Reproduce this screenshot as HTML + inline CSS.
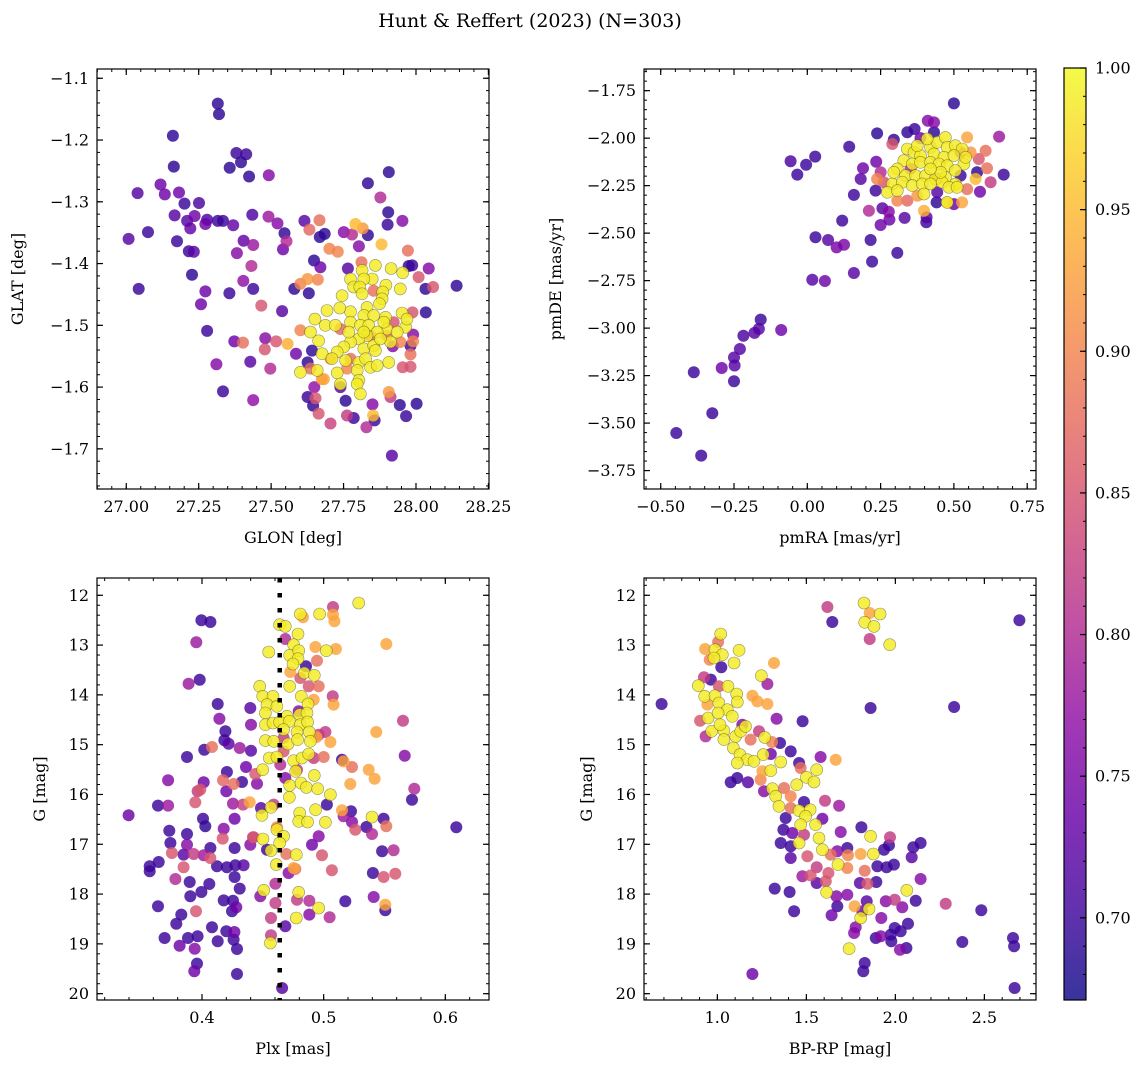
<!DOCTYPE html>
<html><head><meta charset="utf-8">
<style>
html,body{margin:0;padding:0;background:#fff;}
svg{display:block;font-family:"DejaVu Serif","Liberation Serif",serif;}
</style></head>
<body>
<svg id="fig" width="1148" height="1068" viewBox="0 0 1148 1068" xmlns="http://www.w3.org/2000/svg">
<defs><linearGradient id="cbgrad" x1="0" y1="1" x2="0" y2="0"></linearGradient></defs>
<text x="530" y="27" font-size="19" text-anchor="middle">Hunt &amp; Reffert (2023) (N=303)</text>
</svg>
<script>
// ---- Panel A: GLON / GLAT ----
const glon=[27.316,27.320,27.161,27.164,27.380,27.414,27.396,27.357,27.424,27.492,27.906,27.834,27.877,27.118,27.039,27.133,27.182,27.201,27.251,27.167,27.236,27.210,27.221,27.279,27.273,27.316,27.334,27.369,27.435,27.491,27.522,27.904,27.902,27.953,27.008,27.075,27.175,27.216,27.233,27.405,27.438,27.382,27.546,27.553,27.541,27.615,27.667,27.632,27.685,27.668,27.751,27.779,27.834,27.791,27.816,27.881,27.803,27.701,27.730,27.972,27.227,27.043,27.273,27.356,27.258,27.432,27.404,27.438,27.466,27.538,27.279,27.373,27.403,27.480,27.478,27.517,27.557,27.586,27.311,27.428,27.497,27.334,27.438,27.648,27.670,27.601,27.626,27.661,27.580,27.630,27.765,27.812,27.975,27.987,28.044,28.009,28.033,28.059,28.140,28.034,27.988,27.990,27.981,27.990,27.981,27.954,27.981,27.920,27.641,27.626,27.675,27.649,27.626,27.653,27.645,27.664,27.705,27.757,27.739,27.762,27.785,27.829,27.850,27.852,27.857,27.906,27.912,27.944,28.002,27.966,27.917,27.601,27.636,27.854,27.900,27.843,27.739,27.774,27.923,27.946,27.705,27.762,27.682,
27.860,27.914,27.954,27.814,27.774,27.785,27.849,27.820,27.806,27.814,27.896,27.885,27.946,27.745,27.883,27.874,27.774,27.737,27.693,27.651,27.831,27.820,27.854,27.895,27.952,27.900,27.964,27.935,27.774,27.808,27.837,27.866,27.687,27.636,27.664,27.831,27.803,27.774,27.751,27.820,27.854,27.728,27.860,27.676,27.710,27.757,27.803,27.826,27.906,27.843,27.601,27.659,27.728,27.797,27.866,27.803,27.739,27.797,27.808,27.912,27.969,27.877,27.889,27.820,27.768,27.722];
const glat=[-1.141,-1.158,-1.193,-1.243,-1.221,-1.223,-1.236,-1.245,-1.259,-1.257,-1.252,-1.270,-1.293,-1.272,-1.286,-1.288,-1.285,-1.303,-1.302,-1.322,-1.323,-1.331,-1.343,-1.329,-1.336,-1.331,-1.331,-1.338,-1.321,-1.324,-1.335,-1.317,-1.337,-1.331,-1.360,-1.349,-1.364,-1.380,-1.381,-1.363,-1.370,-1.383,-1.351,-1.364,-1.377,-1.331,-1.330,-1.345,-1.352,-1.357,-1.349,-1.353,-1.354,-1.336,-1.343,-1.369,-1.372,-1.376,-1.381,-1.379,-1.418,-1.441,-1.445,-1.448,-1.466,-1.404,-1.428,-1.441,-1.468,-1.477,-1.509,-1.526,-1.528,-1.521,-1.539,-1.526,-1.530,-1.546,-1.563,-1.559,-1.570,-1.607,-1.621,-1.395,-1.406,-1.433,-1.425,-1.426,-1.441,-1.448,-1.408,-1.398,-1.404,-1.403,-1.408,-1.422,-1.441,-1.438,-1.436,-1.479,-1.479,-1.515,-1.533,-1.526,-1.547,-1.568,-1.567,-1.534,-1.541,-1.560,-1.587,-1.600,-1.616,-1.618,-1.630,-1.643,-1.659,-1.622,-1.600,-1.646,-1.650,-1.665,-1.628,-1.646,-1.654,-1.608,-1.616,-1.629,-1.627,-1.647,-1.711,-1.508,-1.570,-1.444,-1.517,-1.517,-1.506,-1.554,-1.495,-1.527,-1.554,-1.570,-1.587,
-1.403,-1.408,-1.415,-1.411,-1.425,-1.438,-1.425,-1.425,-1.438,-1.449,-1.435,-1.446,-1.441,-1.452,-1.457,-1.465,-1.478,-1.472,-1.476,-1.490,-1.471,-1.484,-1.484,-1.487,-1.480,-1.506,-1.503,-1.511,-1.495,-1.500,-1.500,-1.511,-1.500,-1.511,-1.525,-1.517,-1.522,-1.527,-1.535,-1.538,-1.533,-1.543,-1.541,-1.546,-1.554,-1.557,-1.560,-1.554,-1.560,-1.568,-1.576,-1.573,-1.577,-1.573,-1.565,-1.589,-1.595,-1.595,-1.611,-1.527,-1.490,-1.522,-1.495,-1.511,-1.511,-1.500];
const probA=[.69,.69,.69,.69,.7,.7,.69,.69,.69,.76,.69,.69,.8,.74,.72,.74,.74,.7,.71,.72,.74,.72,.73,.71,.74,.7,.7,.73,.71,.78,.76,.69,.7,.76,.72,.7,.7,.7,.72,.73,.78,.76,.69,.8,.74,.72,.88,.87,.69,.69,.76,.8,.69,.95,.92,.95,.76,.9,.9,.88,.69,.7,.74,.7,.74,.8,.77,.7,.85,.72,.7,.74,.88,.76,.85,.85,.94,.74,.76,.72,.8,.7,.77,.69,.74,.9,.92,.9,.69,.69,.72,.88,.69,.7,.76,.85,.69,.85,.69,.69,.85,.76,.7,.9,.88,.85,.85,.76,.69,.69,.92,.77,.7,.85,.69,.85,.83,.69,.72,.82,.7,.8,.76,.95,.7,.92,.82,.69,.69,.7,.72,.9,.88,.88,.88,.87,.87,.88,.85,.9,.9,.9,.93,
.99,.99,.99,.99,.99,.99,.99,.99,.99,.99,.99,.99,.99,.99,.99,.99,.99,.99,.99,.99,.99,.99,.99,.99,.99,.99,.99,.99,.99,.99,.99,.99,.99,.99,.99,.99,.99,.99,.99,.99,.99,.99,.99,.99,.99,.99,.99,.99,.99,.99,.99,.99,.99,.99,.99,.99,.99,.99,.99,.99,.99,.99,.99,.99,.99,.99];
const ticksAX=[27.00,27.25,27.50,27.75,28.00,28.25];
const labelsAX=["27.00","27.25","27.50","27.75","28.00","28.25"];
const ticksAY=[-1.1,-1.2,-1.3,-1.4,-1.5,-1.6,-1.7];
const labelsAY=["\u22121.1","\u22121.2","\u22121.3","\u22121.4","\u22121.5","\u22121.6","\u22121.7"];

// ---- Panel B: pmRA / pmDE ----
const pmra=[0.500,0.238,0.341,0.366,0.411,0.432,0.432,0.295,0.386,0.654,0.143,-0.057,-0.004,0.027,-0.034,0.235,0.190,0.182,0.159,0.233,0.250,0.670,0.625,0.589,0.613,0.608,0.585,0.545,0.574,0.210,0.256,0.278,0.250,0.280,0.332,0.341,0.398,0.407,0.406,0.441,0.477,0.500,0.528,0.119,0.028,0.071,0.100,0.125,0.216,0.307,0.221,0.159,0.017,0.060,-0.159,-0.165,-0.180,-0.089,-0.218,-0.230,-0.250,-0.248,-0.292,-0.250,-0.387,-0.324,-0.447,-0.362,0.290,0.261,0.307,0.375,0.545,0.443,0.523,0.557,0.238,0.579,0.523,0.352,0.443,
0.341,0.364,0.386,0.420,0.443,0.471,0.477,0.505,0.528,0.432,0.466,0.500,0.534,0.329,0.358,0.386,0.420,0.449,0.477,0.505,0.307,0.335,0.369,0.403,0.437,0.471,0.505,0.290,0.324,0.358,0.392,0.420,0.460,0.483,0.511,0.273,0.307,0.398,0.477,0.375,0.409,0.295,0.540,0.455,0.420];
const pmde=[-1.817,-1.975,-1.969,-1.952,-1.908,-1.917,-1.969,-2.008,-2.000,-1.992,-2.045,-2.122,-2.140,-2.097,-2.192,-2.124,-2.159,-2.215,-2.299,-2.276,-2.180,-2.192,-2.232,-2.282,-2.159,-2.066,-2.110,-1.996,-2.215,-2.382,-2.369,-2.387,-2.457,-2.429,-2.420,-2.329,-2.382,-2.417,-2.443,-2.338,-2.338,-2.347,-2.338,-2.434,-2.522,-2.536,-2.575,-2.561,-2.536,-2.604,-2.650,-2.710,-2.745,-2.752,-2.955,-3.004,-3.025,-3.010,-3.040,-3.110,-3.155,-3.197,-3.210,-3.280,-3.232,-3.448,-3.552,-3.671,-2.031,-2.232,-2.329,-2.303,-2.268,-2.215,-2.197,-2.075,-2.215,-2.180,-2.075,-2.162,-2.285,
-2.057,-2.075,-2.092,-2.048,-2.022,-1.996,-2.048,-2.040,-2.057,-2.083,-2.101,-2.092,-2.136,-2.118,-2.136,-2.127,-2.127,-2.136,-2.145,-2.171,-2.162,-2.197,-2.197,-2.197,-2.215,-2.206,-2.241,-2.241,-2.232,-2.250,-2.241,-2.241,-2.232,-2.259,-2.259,-2.285,-2.276,-2.294,-2.338,-2.040,-2.004,-2.180,-2.101,-2.180,-2.162];
const probB=[.69,.69,.69,.7,.76,.76,.69,.69,.74,.78,.7,.71,.7,.7,.7,.74,.74,.72,.7,.7,.8,.7,.82,.74,.88,.88,.85,.93,.95,.8,.72,.76,.74,.74,.72,.87,.94,.72,.7,.69,.95,.74,.93,.7,.7,.72,.75,.75,.7,.7,.7,.72,.72,.74,.7,.72,.72,.74,.71,.72,.72,.72,.74,.7,.7,.7,.7,.7,.85,.85,.9,.92,.88,.88,.7,.92,.9,.69,.8,.8,.72,
.99,.99,.99,.99,.99,.99,.99,.99,.99,.99,.99,.99,.99,.99,.99,.99,.99,.99,.99,.99,.99,.99,.99,.99,.99,.99,.99,.99,.99,.99,.99,.99,.99,.99,.99,.99,.99,.99,.99,.99,.99,.99,.99,.99,.99];
const ticksBX=[-0.5,-0.25,0,0.25,0.5,0.75];
const labelsBX=["\u22120.50","\u22120.25","0.00","0.25","0.50","0.75"];
const ticksBY=[-1.75,-2,-2.25,-2.5,-2.75,-3,-3.25,-3.5,-3.75];
const labelsBY=["\u22121.75","\u22122.00","\u22122.25","\u22122.50","\u22122.75","\u22123.00","\u22123.25","\u22123.50","\u22123.75"];

// ---- Panel C: Plx / G ----
const plx=[0.3995,0.4069,0.3953,0.3981,0.3890,0.4129,0.4143,0.4397,0.4403,0.4192,0.4184,0.4219,0.4019,0.4082,0.3877,0.4310,0.4403,0.4362,0.4205,0.3721,0.4014,0.3964,0.3986,0.4173,0.4260,0.4329,0.4200,0.4255,0.4337,0.4392,0.4452,0.3945,0.3638,0.3721,0.3397,0.4008,0.4027,0.4268,0.3731,0.3877,0.4178,0.4170,0.3740,0.3877,0.4069,0.4268,0.4397,0.4419,0.3753,0.3849,0.3932,0.4014,0.4068,0.3644,0.3570,0.3570,0.3849,0.4123,0.4205,0.4274,0.4342,0.3781,0.3899,0.4060,0.4268,0.4310,0.3995,0.3904,0.4178,0.4255,0.4282,0.3638,0.3951,0.3830,0.4247,0.3789,0.4082,0.4200,0.4266,0.4260,0.3693,0.3816,0.3885,0.3964,0.4129,0.4288,0.3940,0.3959,0.3937,0.4288,0.4658,
0.5077,0.5077,0.5088,0.4830,0.4685,0.4932,0.5101,0.5515,0.4945,0.4855,0.4726,0.4808,0.4877,0.4959,0.5074,0.5082,0.4918,0.5652,0.5433,0.5014,0.4940,0.5055,0.5000,0.5151,0.5164,0.5233,0.5370,0.5419,0.5219,0.5666,0.5745,0.5726,0.5027,0.5151,0.5225,0.5164,0.5233,0.5260,0.5351,0.5397,0.5493,0.5515,0.6090,0.5480,0.5575,0.4904,0.4959,0.4986,0.5068,0.5405,0.5493,0.5589,0.5411,0.5178,0.5507,0.5507,0.5049,0.4882,0.4882,0.4781,0.4767,0.4753,0.4693,0.4712,0.4603,0.4479,0.4603,0.4567,0.4567,0.4685,0.4425,0.4534,0.4616,0.4485,0.4589,0.4438,0.4644,0.4685,0.4781,0.4918,0.4959,0.4671,0.4795,0.4671,
0.5288,0.4638,0.4685,0.4808,0.4967,0.4789,0.4548,0.4753,0.4721,0.4795,0.4789,0.4748,0.5022,0.4841,0.4923,0.4721,0.4474,0.4499,0.4584,0.4816,0.4534,0.4616,0.4871,0.4521,0.4699,0.4803,0.4863,0.4521,0.4584,0.4638,0.4718,0.4808,0.4868,0.4671,0.4781,0.4882,0.4521,0.4589,0.4707,0.4786,0.4890,0.4553,0.4616,0.4753,0.4822,0.4877,0.4499,0.4770,0.4923,0.4721,0.4814,0.4858,0.4951,0.4718,0.5055,0.4567,0.4493,0.4803,0.4934,0.4795,0.4868,0.5014,0.5397,0.4616,0.4671,0.4501,0.4638,0.4567,0.4775,0.4611,0.4507,0.4795,0.4959,0.4775,0.4562];
const gmagC=[12.503,12.537,12.945,13.695,13.775,14.183,14.478,14.264,14.598,14.732,14.913,14.980,15.100,15.047,15.247,15.067,15.120,15.448,15.549,15.716,15.756,15.937,15.903,15.716,15.790,15.749,15.937,16.184,16.204,16.157,15.783,16.157,16.224,16.224,16.418,16.486,16.640,16.486,16.727,16.793,16.687,16.887,16.974,17.008,17.075,17.075,17.008,16.860,17.175,17.208,17.195,17.222,17.276,17.356,17.443,17.543,17.463,17.443,17.463,17.423,17.423,17.697,17.757,17.797,17.657,17.891,17.958,18.045,18.126,18.132,18.266,18.246,18.346,18.413,18.346,18.594,18.667,18.748,18.761,18.915,18.882,19.036,18.882,18.848,18.949,19.103,19.096,19.397,19.551,19.605,19.886,
12.235,12.389,12.523,12.443,12.878,13.039,13.079,12.978,13.313,13.427,13.540,13.661,13.828,13.828,14.029,14.196,14.096,14.518,14.745,14.745,14.852,14.946,15.247,15.301,15.335,15.448,15.502,15.683,15.790,15.221,15.883,16.104,16.204,16.318,16.338,16.439,16.552,16.707,16.653,16.794,16.486,16.640,16.660,17.142,17.121,17.008,16.840,17.222,17.523,17.577,17.657,17.590,18.059,18.145,18.213,18.326,18.467,18.413,18.132,18.112,17.496,17.476,17.195,17.577,17.791,18.045,18.179,18.480,18.828,18.648,16.860,17.108,16.660,16.271,16.204,15.589,15.401,15.669,15.502,15.267,14.799,15.134,14.330,14.866,
12.155,12.590,12.624,12.376,12.376,12.777,13.139,12.992,13.206,13.112,13.273,13.380,13.112,13.561,13.607,13.828,13.828,14.029,14.029,14.029,14.196,14.230,14.183,14.364,14.431,14.397,14.364,14.598,14.565,14.545,14.531,14.598,14.545,14.698,14.745,14.745,14.919,14.933,14.986,14.899,14.933,15.267,15.247,15.321,15.267,15.187,15.502,15.535,15.616,15.817,15.770,15.857,15.883,16.057,16.004,16.258,16.418,16.372,16.305,16.539,16.552,16.559,16.452,16.707,16.840,16.894,16.974,17.128,17.209,17.409,17.925,17.965,18.280,18.480,18.982];
const probC=[.7,.7,.78,.7,.78,.7,.76,.72,.76,.7,.7,.72,.7,.88,.7,.78,.72,.74,.7,.76,.74,.82,.85,.87,.88,.7,.74,.78,.82,.93,.76,.85,.7,.78,.74,.7,.69,.74,.7,.7,.76,.85,.7,.76,.7,.7,.76,.82,.85,.72,.82,.78,.85,.7,.7,.7,.85,.7,.7,.7,.72,.8,.7,.7,.7,.7,.7,.7,.7,.7,.74,.7,.85,.7,.7,.7,.7,.7,.74,.7,.7,.74,.7,.7,.7,.7,.76,.7,.74,.7,.72,
.82,.93,.93,.93,.8,.93,.93,.93,.88,.7,.93,.85,.85,.88,.82,.93,.93,.82,.93,.82,.93,.93,.88,.7,.93,.88,.93,.93,.93,.76,.8,.7,.7,.93,.7,.78,.76,.85,.7,.8,.7,.88,.7,.7,.8,.74,.76,.85,.85,.7,.85,.85,.76,.7,.93,.7,.8,.76,.8,.82,.88,.93,.88,.76,.8,.76,.82,.82,.82,.72,.85,.7,.9,.72,.82,.85,.8,.76,.82,.82,.82,.85,.76,.82,
.99,.99,.99,.99,.99,.99,.99,.99,.99,.99,.99,.99,.99,.99,.99,.99,.99,.99,.99,.99,.99,.99,.99,.99,.99,.99,.99,.99,.99,.99,.99,.99,.99,.99,.99,.99,.99,.99,.99,.99,.99,.99,.99,.99,.99,.99,.99,.99,.99,.99,.99,.99,.99,.99,.99,.99,.99,.99,.99,.99,.99,.99,.99,.99,.99,.99,.99,.99,.99,.99,.99,.99,.99,.99,.99];
const plxMean=[0.4639];
const ticksCX=[0.4,0.5,0.6];
const labelsCX=["0.4","0.5","0.6"];
const ticksGY=[12,13,14,15,16,17,18,19,20];
const labelsGY=["12","13","14","15","16","17","18","19","20"];

// ---- Panel D: BP-RP / G ----
const bprp=[0.687,1.618,1.646,1.824,1.856,1.914,1.828,1.880,1.856,1.968,2.697,1.019,1.004,0.931,0.987,1.028,1.122,0.981,0.957,1.094,1.022,1.318,0.925,0.963,0.893,1.009,1.060,1.247,1.281,0.929,0.987,1.109,1.197,1.225,1.281,0.944,1.009,1.112,1.056,0.903,0.948,1.004,1.084,1.140,1.333,1.479,1.861,2.330,0.934,0.968,1.037,1.015,1.037,1.103,1.131,1.159,1.187,1.234,1.266,1.307,1.352,1.090,1.127,1.168,1.112,1.206,1.258,1.300,1.412,1.580,1.665,1.459,1.356,1.300,1.253,1.468,1.558,1.500,1.543,1.446,1.243,1.075,1.112,1.172,1.309,1.375,1.412,1.262,1.328,1.346,1.487,1.412,1.459,1.521,1.496,1.552,1.468,1.384,1.590,1.605,1.684,1.809,1.693,1.371,1.421,1.487,1.571,1.590,1.459,1.356,1.412,1.412,1.861,1.970,1.964,1.936,2.142,2.101,2.092,1.506,1.637,1.674,1.730,1.734,1.805,1.876,1.678,1.730,1.558,1.899,1.992,1.951,1.828,1.478,1.524,1.624,1.609,1.558,1.801,1.843,1.893,2.142,1.322,1.406,1.614,1.669,1.730,1.674,1.771,1.839,1.852,1.805,1.815,1.642,1.946,1.996,2.039,2.064,2.114,2.283,2.483,1.921,1.431,1.777,1.768,2.071,1.996,1.974,2.030,1.890,1.918,1.977,2.026,2.062,1.740,2.376,2.661,2.667,1.828,1.820,1.197,2.670];
const gmagD=[14.183,12.235,12.537,12.155,12.356,12.376,12.543,12.624,12.878,12.992,12.503,12.777,12.938,13.079,13.092,13.193,13.105,13.259,13.293,13.360,13.447,13.360,13.648,13.694,13.815,13.828,13.828,13.614,13.781,14.029,14.016,13.982,14.016,14.130,14.183,14.196,14.163,14.143,14.297,14.518,14.464,14.364,14.431,14.598,14.478,14.531,14.263,14.243,14.833,14.732,14.719,14.598,14.899,14.833,14.732,14.632,14.899,14.732,14.853,14.946,14.966,15.067,15.200,15.301,15.368,15.334,15.200,15.187,15.134,15.247,15.301,15.368,15.348,15.522,15.535,15.468,15.502,15.656,15.750,15.803,15.703,15.756,15.669,15.756,15.883,15.870,16.037,15.937,16.037,16.238,16.151,16.271,16.325,16.305,16.439,16.606,16.606,16.472,16.486,16.124,16.225,16.660,16.754,16.707,16.773,16.807,16.874,17.108,16.974,16.974,17.041,17.275,16.840,16.860,17.021,17.108,16.974,17.061,17.262,17.242,17.208,17.142,17.075,17.222,17.195,17.195,17.409,17.476,17.463,17.443,17.409,17.463,17.530,17.644,17.624,17.577,17.744,17.777,17.777,17.791,17.757,17.697,17.891,17.958,17.965,18.045,18.012,18.246,18.246,18.146,18.300,18.480,18.346,18.427,18.146,18.112,18.266,17.925,18.132,18.193,18.326,18.480,18.346,18.668,18.782,18.594,18.681,18.815,18.748,18.882,18.848,18.949,19.116,19.083,19.096,18.962,18.882,19.049,19.384,19.551,19.605,19.886];
const probD=[.7,.82,.7,.99,.93,.99,.99,.99,.82,.99,.7,.99,.88,.93,.99,.99,.99,.99,.9,.99,.7,.93,.82,.7,.99,.85,.99,.99,.78,.99,.99,.99,.93,.93,.93,.93,.99,.99,.99,.85,.99,.99,.99,.76,.76,.7,.7,.7,.8,.99,.99,.99,.99,.99,.99,.99,.88,.82,.99,.9,.7,.99,.99,.99,.99,.99,.99,.74,.7,.76,.93,.7,.99,.99,.93,.88,.99,.99,.99,.99,.9,.7,.7,.72,.99,.88,.9,.76,.99,.99,.7,.88,.99,.99,.99,.99,.99,.7,.74,.82,.78,.7,.76,.7,.74,.82,.99,.99,.99,.7,.7,.72,.99,.82,.7,.7,.7,.7,.72,.85,.88,.76,.7,.9,.93,.99,.99,.9,.82,.7,.7,.7,.88,.78,.85,.85,.85,.72,.72,.85,.7,.76,.7,.7,.99,.76,.76,.7,.93,.72,.99,.99,.74,.74,.76,.82,.76,.99,.7,.82,.7,.76,.7,.76,.76,.7,.7,.7,.7,.7,.76,.7,.76,.7,.99,.7,.7,.7,.7,.7,.74];
const ticksDX=[1.0,1.5,2.0,2.5];
const labelsDX=["1.0","1.5","2.0","2.5"];

// ---- Colorbar ----
const cbTicks=[0.70,0.75,0.80,0.85,0.90,0.95,1.00];
const cbLabels=["0.70","0.75","0.80","0.85","0.90","0.95","1.00"];
const vmin=0.671, vmax=1.0;

const NS="http://www.w3.org/2000/svg";
const svg=document.getElementById('fig');
const plasma=[[13,8,135],[65,4,157],[106,0,168],[143,13,164],[177,42,144],[204,71,120],[225,100,98],[242,132,75],[252,166,54],[252,206,37],[240,249,33]];
function cmap(v){
  let t=(v-vmin)/(vmax-vmin); if(!isFinite(t)) t=0; t=Math.max(0,Math.min(1,t));
  const f=t*10, i=Math.min(9,Math.floor(f)), r=f-i;
  const a=plasma[i], b=plasma[i+1];
  return 'rgb('+a.map((c,k)=>Math.round(c+(b[k]-c)*r)).join(',')+')';
}
function mk(tag,attrs,parent){const e=document.createElementNS(NS,tag);for(const k in attrs)e.setAttribute(k,attrs[k]);(parent||svg).appendChild(e);return e;}

function panel(cfg){
  const g=mk('g',{});
  
  
  const sx=v=>cfg.x0+(v-cfg.xmin)/(cfg.xmax-cfg.xmin)*cfg.w;
  const sy=v=>cfg.invert? cfg.y0+(v-cfg.ymin)/(cfg.ymax-cfg.ymin)*cfg.h : cfg.y0+cfg.h-(v-cfg.ymin)/(cfg.ymax-cfg.ymin)*cfg.h;
  const cp='clip'+cfg.name;
  const cl=mk('clipPath',{id:cp},g); mk('rect',{x:cfg.x0,y:cfg.y0,width:cfg.w,height:cfg.h},cl);
  const pts=mk('g',{'clip-path':'url(#'+cp+')'},g);
  const n=Math.min(cfg.xs.length,cfg.ys.length);
  const pr=i=>(cfg.cs[i]===undefined?0.7:cfg.cs[i]);
  const idx=[]; for(let i=0;i<n;i++) idx.push(i);
  idx.sort((a,b)=>pr(a)-pr(b));
  for(const i of idx){
    const p=pr(i);
    const c=mk('circle',{cx:sx(cfg.xs[i]).toFixed(1),cy:sy(cfg.ys[i]).toFixed(1),r:6,fill:cmap(p),'fill-opacity':0.82,stroke:p>0.97?'rgba(60,60,40,0.55)':'none','stroke-width':0.6},pts);
    
    
  }
  if(cfg.vline!==undefined){
    const l=mk('line',{x1:sx(cfg.vline),x2:sx(cfg.vline),y1:cfg.y0,y2:cfg.y0+cfg.h,stroke:'#000','stroke-width':4.5,'stroke-dasharray':'4.5 10.5'},pts);
    
    
  }
  const fr=mk('rect',{x:cfg.x0,y:cfg.y0,width:cfg.w,height:cfg.h,fill:'none',stroke:'#000','stroke-width':1.2},g);
  
  
  const eps=1e-9;
  for(let v=Math.ceil(cfg.xmin/cfg.xminor-eps)*cfg.xminor; v<=cfg.xmax+eps; v+=cfg.xminor){
    const x=sx(v); if(x<cfg.x0||x>cfg.x0+cfg.w)continue;
    mk('line',{x1:x,x2:x,y1:cfg.y0+cfg.h,y2:cfg.y0+cfg.h-3,stroke:'#000','stroke-width':1},g);
    mk('line',{x1:x,x2:x,y1:cfg.y0,y2:cfg.y0+3,stroke:'#000','stroke-width':1},g);
  }
  for(let v=Math.ceil(cfg.ymin/cfg.yminor-eps)*cfg.yminor; v<=cfg.ymax+eps; v+=cfg.yminor){
    const y=sy(v); if(y<cfg.y0||y>cfg.y0+cfg.h)continue;
    mk('line',{x1:cfg.x0,x2:cfg.x0+3,y1:y,y2:y,stroke:'#000','stroke-width':1},g);
    mk('line',{x1:cfg.x0+cfg.w,x2:cfg.x0+cfg.w-3,y1:y,y2:y,stroke:'#000','stroke-width':1},g);
  }
  cfg.xt.forEach((v,i)=>{
    const x=sx(v);
    mk('line',{x1:x,x2:x,y1:cfg.y0+cfg.h,y2:cfg.y0+cfg.h-6,stroke:'#000','stroke-width':1.2},g);
    mk('line',{x1:x,x2:x,y1:cfg.y0,y2:cfg.y0+6,stroke:'#000','stroke-width':1.2},g);
    const t=mk('text',{x:x,y:cfg.y0+cfg.h+23,'font-size':16,'text-anchor':'middle'},g); t.textContent=cfg.xl[i];
    
    
  });
  cfg.yt.forEach((v,i)=>{
    const y=sy(v);
    mk('line',{x1:cfg.x0,x2:cfg.x0+6,y1:y,y2:y,stroke:'#000','stroke-width':1.2},g);
    mk('line',{x1:cfg.x0+cfg.w,x2:cfg.x0+cfg.w-6,y1:y,y2:y,stroke:'#000','stroke-width':1.2},g);
    const t=mk('text',{x:cfg.x0-8,y:y+5.5,'font-size':16,'text-anchor':'end'},g); t.textContent=cfg.yl[i];
    
    
  });
  const xt=mk('text',{x:cfg.x0+cfg.w/2,y:cfg.y0+cfg.h+54,'font-size':16,'text-anchor':'middle'},g); xt.textContent=cfg.xlabel;
  
  
  const yx=cfg.ylabelX, yy=cfg.y0+cfg.h/2;
  const yt=mk('text',{x:yx,y:yy,'font-size':16,'text-anchor':'middle',transform:'rotate(-90 '+yx+' '+yy+')'},g); yt.textContent=cfg.ylabel;
  
  
}

panel({name:'glon-glat-panel',x0:97,y0:69,w:392,h:420,xmin:26.899,xmax:28.252,ymin:-1.765,ymax:-1.085,xs:glon,ys:glat,cs:probA,xt:ticksAX,xl:labelsAX,yt:ticksAY,yl:labelsAY,xminor:0.05,yminor:0.02,xlabel:'GLON [deg]',ylabel:'GLAT [deg]',ylabelX:23});
panel({name:'proper-motion-panel',x0:644,y0:69,w:392,h:420,xmin:-0.557,xmax:0.780,ymin:-3.847,ymax:-1.636,xs:pmra,ys:pmde,cs:probB,xt:ticksBX,xl:labelsBX,yt:ticksBY,yl:labelsBY,xminor:0.05,yminor:0.05,xlabel:'pmRA [mas/yr]',ylabel:'pmDE [mas/yr]',ylabelX:561});
panel({name:'parallax-magnitude-panel',x0:97,y0:578,w:392,h:422,xmin:0.3137,xmax:0.6359,ymin:11.653,ymax:20.127,invert:true,xs:plx,ys:gmagC,cs:probC,xt:ticksCX,xl:labelsCX,yt:ticksGY,yl:labelsGY,xminor:0.02,yminor:0.2,xlabel:'Plx [mas]',ylabel:'G [mag]',ylabelX:45,vline:plxMean[0]});
panel({name:'cmd-panel',x0:644,y0:578,w:392,h:422,xmin:0.588,xmax:2.790,ymin:11.653,ymax:20.127,invert:true,xs:bprp,ys:gmagD,cs:probD,xt:ticksDX,xl:labelsDX,yt:ticksGY,yl:labelsGY,xminor:0.1,yminor:0.2,xlabel:'BP-RP [mag]',ylabel:'G [mag]',ylabelX:592});

// colorbar
const grad=document.getElementById('cbgrad');
for(let k=0;k<=10;k++){mk('stop',{offset:(k/10),'stop-color':'rgb('+plasma[k].join(',')+')'},grad);}
const cb={x:1064,y:68,w:22,h:932};
const cbg=mk('g',{});


mk('rect',{x:cb.x,y:cb.y,width:cb.w,height:cb.h,fill:'url(#cbgrad)','fill-opacity':0.82},cbg);
mk('rect',{x:cb.x,y:cb.y,width:cb.w,height:cb.h,fill:'none',stroke:'#000','stroke-width':1.2},cbg);
const cy=v=>cb.y+cb.h-(v-vmin)/(vmax-vmin)*cb.h;
for(let v=0.68;v<=1.0001;v+=0.01){const y=cy(v);mk('line',{x1:cb.x+cb.w,x2:cb.x+cb.w-3,y1:y,y2:y,stroke:'#000','stroke-width':1},cbg);}
cbTicks.forEach((v,i)=>{
  const y=cy(v);
  mk('line',{x1:cb.x+cb.w,x2:cb.x+cb.w-6,y1:y,y2:y,stroke:'#000','stroke-width':1.2},cbg);
  const t=mk('text',{x:cb.x+cb.w+9,y:y+5.5,'font-size':16},cbg); t.textContent=cbLabels[i];
  
  
});
</script>
</body></html>
